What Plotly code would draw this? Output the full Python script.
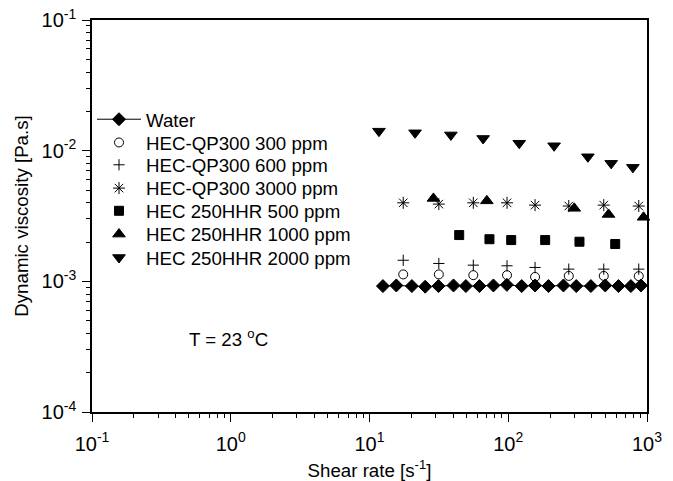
import plotly.graph_objects as go

# ---- data ----
water_x = [12.5, 15.6, 20.2, 25.2, 31.4, 40.3, 49.5, 62.0, 78.2, 97.7,
           125, 156, 195, 250, 309, 394, 500, 623, 765, 904]
water_y = [9.2e-4, 9.3e-4, 9.2e-4, 9.1e-4, 9.2e-4, 9.3e-4, 9.2e-4, 9.2e-4, 9.3e-4, 9.4e-4,
           9.2e-4, 9.3e-4, 9.2e-4, 9.3e-4, 9.2e-4, 9.2e-4, 9.3e-4, 9.2e-4, 9.2e-4, 9.3e-4]

qp_x = [17.5, 31.6, 56, 98, 156, 273, 488, 872]
qp300_y = [1.13e-3, 1.13e-3, 1.115e-3, 1.115e-3, 1.08e-3, 1.10e-3, 1.10e-3, 1.096e-3]
qp600_y = [1.45e-3, 1.37e-3, 1.33e-3, 1.315e-3, 1.277e-3, 1.24e-3, 1.24e-3, 1.24e-3]
qp3000_y = [3.99e-3, 3.90e-3, 3.99e-3, 3.99e-3, 3.83e-3, 3.77e-3, 3.83e-3, 3.77e-3]

hhr500_x = [44.3, 73.2, 105, 184.5, 326, 590]
hhr500_y = [2.26e-3, 2.10e-3, 2.07e-3, 2.07e-3, 2.01e-3, 1.93e-3]

hhr1000_x = [28.9, 70.1, 299, 528, 944]
hhr1000_y = [4.31e-3, 4.13e-3, 3.62e-3, 3.25e-3, 3.09e-3]

hhr2000_x = [11.7, 21.3, 38.6, 65.9, 120, 214, 375, 552, 791]
hhr2000_y = [1.41e-2, 1.37e-2, 1.32e-2, 1.24e-2, 1.14e-2, 1.09e-2, 8.98e-3, 8.0e-3, 7.45e-3]

names = ["Water", "HEC-QP300 300 ppm", "HEC-QP300 600 ppm", "HEC-QP300 3000 ppm",
         "HEC 250HHR 500 ppm", "HEC 250HHR 1000 ppm", "HEC 250HHR 2000 ppm"]

x_tickvals = [0.1, 1, 10, 100, 1000]
x_ticktext = ["10<sup>-1</sup>", "10<sup>0</sup>", "10<sup>1</sup>", "10<sup>2</sup>", "10<sup>3</sup>"]
y_tickvals = [1e-4, 1e-3, 1e-2, 1e-1]
y_ticktext = ["10<sup>-4</sup>", "10<sup>-3</sup>", "10<sup>-2</sup>", "10<sup>-1</sup>"]

FONT = "Arial, 'Liberation Sans', sans-serif"
FS = 18.7
TFS = 20

series = [
    (water_x, water_y, "diamond", 10, "lines+markers"),
    (qp_x, qp300_y, "circle-open", 9, "markers"),
    (qp_x, qp600_y, "cross-thin-open", 8, "markers"),
    (qp_x, qp3000_y, "asterisk-open", 10, "markers"),
    (hhr500_x, hhr500_y, "square", 9, "markers"),
    (hhr1000_x, hhr1000_y, "triangle-up", 11, "markers"),
    (hhr2000_x, hhr2000_y, "triangle-down", 11, "markers"),
]

legend_y = [0.746, 0.6867, 0.6298, 0.5703, 0.5124, 0.4529, 0.3932]

fig = go.Figure()
for i, (xs, ys, sym, sz, mode) in enumerate(series):
    lg = "legend" if i == 0 else f"legend{i+1}"
    fig.add_trace(go.Scatter(
        x=xs, y=ys, mode=mode, name=names[i], legend=lg, showlegend=True,
        line=dict(color="black", width=1),
        marker=dict(symbol=sym, size=sz, color="black",
                    line=dict(color="black", width=1)),
        cliponaxis=False,
    ))

layout_legends = {}
for i, ly in enumerate(legend_y):
    key = "legend" if i == 0 else f"legend{i+1}"
    layout_legends[key] = dict(
        x=0.0, y=ly, xanchor="left", yanchor="middle", visible=True,
        bgcolor="rgba(0,0,0,0)", borderwidth=0, itemwidth=44,
        font=dict(family=FONT, size=FS, color="black"),
    )


def minor_vals(lo, hi):
    vals = []
    for e in range(lo, hi):
        for m in range(2, 10):
            vals.append(m * 10.0 ** e)
    return vals


axis_common = dict(
    type="log", showline=True, linecolor="black", linewidth=1.5, mirror=True,
    ticks="outside", ticklen=8, tickwidth=1.2, tickcolor="black",
    showgrid=False, zeroline=False, automargin=False,
    tickfont=dict(family=FONT, size=TFS, color="black"),
)

fig.update_layout(
    width=673, height=481, showlegend=True,
    margin=dict(l=92, r=26, t=20, b=69, autoexpand=False),
    paper_bgcolor="white", plot_bgcolor="white",
    font=dict(family=FONT, size=FS, color="black"),
    xaxis=dict(axis_common, range=[-1, 3], tickmode="array",
               tickvals=x_tickvals, ticktext=x_ticktext, ticklabelstandoff=5,
               minor=dict(ticks="outside", ticklen=4, tickwidth=1, tickcolor="black",
                          tickmode="array", tickvals=minor_vals(-1, 3), showgrid=False),
               title=dict(text="Shear rate [s<sup>-1</sup>]",
                          font=dict(family=FONT, size=FS), standoff=12)),
    yaxis=dict(axis_common, range=[-4, -1], tickmode="array",
               tickvals=y_tickvals, ticktext=y_ticktext, ticklabelstandoff=2,
               minor=dict(ticks="outside", ticklen=4, tickwidth=1, tickcolor="black",
                          tickmode="array", tickvals=minor_vals(-4, -1), showgrid=False),
               title=dict(text="Dynamic viscosity [Pa.s]",
                          font=dict(family=FONT, size=FS), standoff=8)),
    annotations=[dict(
        text="T = 23 <sup>o</sup>C", xref="paper", yref="paper",
        x=0.1706, y=0.188, xanchor="left", yanchor="middle",
        showarrow=False, font=dict(family=FONT, size=FS, color="black"),
    )],
    **layout_legends,
)

fig.write_html("out.html", config={"displayModeBar": False},
               post_script="document.body.style.margin='0';")
